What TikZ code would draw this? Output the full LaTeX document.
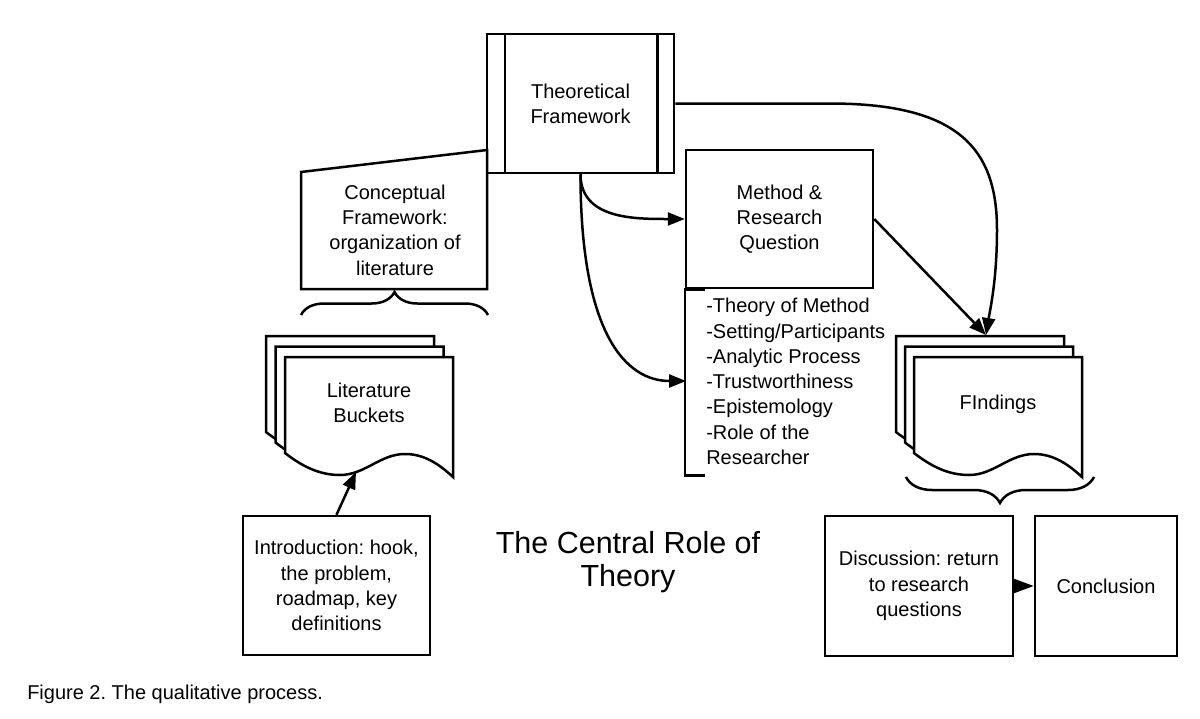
\documentclass[tikz,border=0pt]{standalone}
\usepackage{fontspec}
\setmainfont{Liberation Sans}
\usetikzlibrary{arrows.meta,decorations.pathreplacing}
\frenchspacing
\begin{document}
\begin{tikzpicture}[x=1pt,y=-1pt,line width=2.5pt,line join=miter,
  fnt/.style={font=\fontsize{20}{25.3}\selectfont},
  box/.style={draw,fill=white,align=center,inner sep=0pt,fnt},
  txt/.style={align=center,inner sep=0pt,fnt},
  arr/.style={-{Triangle[length=17pt,width=13pt]}},
  docshape/.pic={\draw[fill=white] (0,0) -- (168,0) -- (168,120)
     .. controls (155,108) and (140,97) .. (120,97)
     .. controls (95,97) and (80,118) .. (55,118)
     .. controls (35,118) and (18,110) .. (0,96) -- cycle;}]
\useasboundingbox[fill=white] (0,0) rectangle (1200,718);

% Theoretical framework
\node[box,minimum width=187pt,minimum height=139pt] (tf) at (580.5,103.5) {Theoretical\\Framework};
\draw ([xshift=19pt]tf.north west) -- ([xshift=19pt]tf.south west);
\draw ([xshift=-18pt]tf.north east) -- ([xshift=-18pt]tf.south east);

% Conceptual framework (manual input shape)
\draw[fill=white] (301,172) -- (487,150) -- (487,289) -- (301,289) -- cycle;
\node[txt] (cf) at (395,230) {Conceptual\\Framework:\\organization of\\literature};
\draw[decorate,decoration={brace,amplitude=23pt}] (301,315) -- (488,315);

% Literature buckets
\pic at (266,336) {docshape};
\pic at (275.5,346.5) {docshape};
\pic at (285,357) {docshape};
\node[txt] (lit) at (369,403) {Literature\\Buckets};
\coordinate (litwave) at (356,472);

% Introduction
\node[box,minimum width=187pt,minimum height=139pt] (intro) at (336.5,585.5) {Introduction: hook,\\the problem,\\roadmap, key\\definitions};
\draw[arr] (intro.north) -- (litwave);

% Method & research question
\node[box,minimum width=187pt,minimum height=138pt] (mrq) at (779.5,219) {Method \&\\Research\\Question};
\draw ([xshift=20pt]mrq.south west) -- (mrq.south west) -- ++(0,186) -- ++(20,0);
\node[txt,align=left,anchor=north west] (list) at (705,297) {-Theory of Method\\-Setting/Participants\\-Analytic Process\\-Trustworthiness\\-Epistemology\\-Role of the\\Researcher};
\coordinate (listin) at (686,381);

% Findings
\pic at (896,336) {docshape};
\pic at (905,346.5) {docshape};
\pic at (914,357) {docshape};
\node[txt] (find) at (998,404) {FIndings};
\coordinate (findtop) at (986,335);
\draw[decorate,decoration={brace,amplitude=26pt}] (1094,477) -- (906,477);

% Discussion and conclusion
\node[box,minimum width=188pt,minimum height=140pt] (disc) at (919,586) {Discussion: return\\to research\\questions};
\node[box,minimum width=142pt,minimum height=140pt] (conc) at (1106,586) {Conclusion};
\draw[-{Triangle[length=20pt,width=14pt]}] (disc.east) -- (conc.west);

% Connectors from theory
\draw[arr] (tf.south) .. controls +(0,45) and +(-50,0) .. (mrq.west);
\draw[arr] (tf.south) .. controls +(0,160) and +(-60,0) .. (listin);
\draw[arr] (mrq.east) -- (findtop);
\draw[arr] (tf.east) -- (830,103.5) .. controls (960,103.5) and (997,150) .. (997,230)
   .. controls (997,280) and (990,310) .. (findtop);

% Texts
\node[align=center,inner sep=0pt,font=\fontsize{30.5}{33}\selectfont] (title) at (628,562) {The Central Role of\\Theory};
\node[anchor=base west,inner sep=0pt,font=\fontsize{20}{24}\selectfont] (cap) at (26,699) {Figure 2. The qualitative process.};
\end{tikzpicture}
\end{document}
